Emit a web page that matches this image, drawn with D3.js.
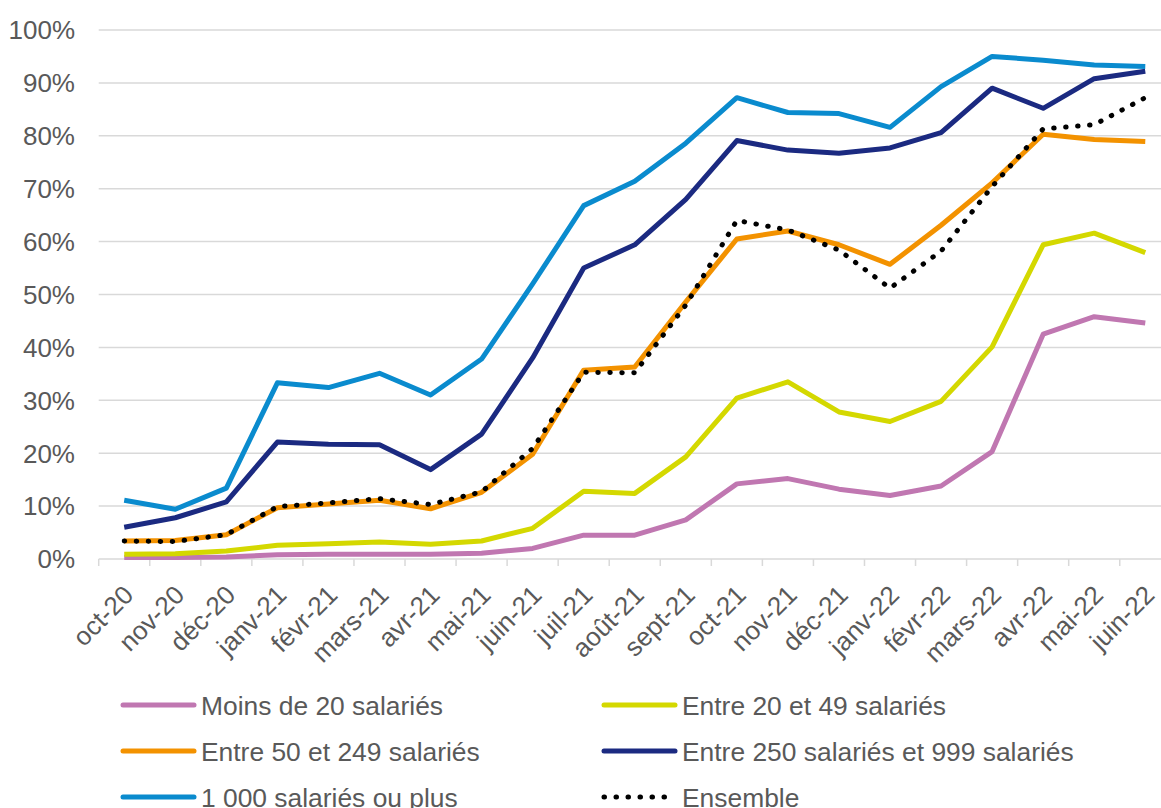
<!DOCTYPE html>
<html>
<head>
<meta charset="utf-8">
<script src="https://cdn.jsdelivr.net/npm/d3@7"></script>
<style>
  html, body { margin: 0; padding: 0; background: #ffffff; }
  svg { display: block; }
  text { font-family: "Liberation Sans", Arial, sans-serif; fill: #595959; }
</style>
</head>
<body>
<svg id="chart" width="1161" height="808"></svg>
<script>
// Months of the observation period
const months = ["oct-20", "nov-20", "déc-20", "janv-21", "févr-21", "mars-21", "avr-21",
  "mai-21", "juin-21", "juil-21", "août-21", "sept-21", "oct-21", "nov-21", "déc-21",
  "janv-22", "févr-22", "mars-22", "avr-22", "mai-22", "juin-22"];

// Share of companies (%) by company size
const moins20 = [0.3, 0.3, 0.4, 0.8, 0.9, 0.9, 0.9, 1.1, 2.0, 4.5, 4.5, 7.4, 14.2, 15.2, 13.2, 12.0, 13.8, 20.3, 42.5, 45.8, 44.6];
const de20a49 = [0.9, 1.0, 1.5, 2.6, 2.9, 3.2, 2.8, 3.4, 5.8, 12.8, 12.4, 19.3, 30.4, 33.5, 27.8, 26.0, 29.8, 40.1, 59.4, 61.6, 57.9];
const de50a249 = [3.4, 3.5, 4.6, 9.7, 10.4, 11.1, 9.5, 12.6, 19.8, 35.7, 36.3, 48.6, 60.5, 62.0, 59.4, 55.7, 63.1, 71.1, 80.3, 79.3, 78.9];
const de250a999 = [6.0, 7.8, 10.8, 22.1, 21.7, 21.6, 16.9, 23.6, 38.0, 55.0, 59.4, 68.0, 79.1, 77.3, 76.7, 77.7, 80.6, 89.0, 85.2, 90.8, 92.2];
const plus1000 = [11.1, 9.4, 13.4, 33.3, 32.4, 35.1, 31.0, 37.8, 52.0, 66.8, 71.4, 78.6, 87.2, 84.4, 84.2, 81.6, 89.3, 95.0, 94.3, 93.4, 93.1];
const ensemble = [3.4, 3.3, 4.6, 9.9, 10.6, 11.4, 10.3, 12.7, 20.9, 35.3, 35.2, 48.0, 64.0, 62.2, 58.4, 51.2, 58.2, 70.4, 81.3, 82.1, 87.2];

// Axis ticks
const yTicks = [0, 10, 20, 30, 40, 50, 60, 70, 80, 90, 100];

// Series names and colours, in drawing order
const seriesNames = ["Moins de 20 salariés", "Entre 20 et 49 salariés", "Entre 50 et 249 salariés",
  "Entre 250 salariés et 999 salariés", "1 000 salariés ou plus", "Ensemble"];
const seriesValues = [moins20, de20a49, de50a249, de250a999, plus1000, ensemble];
const seriesColors = ["#c077b1", "#d4d800", "#f39200", "#1b2a81", "#0a8bce", "#000000"];

const svg = d3.select("#chart");

const x = d3.scaleBand().domain(months).range([98.7, 1170.8]).padding(0);
const y = d3.scaleLinear().domain([0, 100]).range([559, 30]);

// Horizontal gridlines
svg.append("g")
  .selectAll("line")
  .data(yTicks)
  .join("line")
  .attr("x1", 98.7)
  .attr("x2", 1170.8)
  .attr("y1", d => y(d))
  .attr("y2", d => y(d))
  .attr("stroke", "#d9d9d9")
  .attr("stroke-width", 1.5);

// Y axis labels
svg.append("g")
  .selectAll("text")
  .data(yTicks)
  .join("text")
  .attr("x", 75)
  .attr("y", d => y(d))
  .attr("dy", "0.36em")
  .attr("text-anchor", "end")
  .attr("font-size", 26)
  .text(d => d + "%");

// Category tick marks at band edges
svg.append("g")
  .selectAll("line")
  .data(months)
  .join("line")
  .attr("x1", d => x(d))
  .attr("x2", d => x(d))
  .attr("y1", y(0))
  .attr("y2", y(0) + 7)
  .attr("stroke", "#d9d9d9")
  .attr("stroke-width", 1.5);

// Rotated month labels
svg.append("g")
  .selectAll("text")
  .data(months)
  .join("text")
  .attr("text-anchor", "end")
  .attr("font-size", 26)
  .attr("transform", d => `translate(${x(d) + x.bandwidth() / 2 + 4},${y(0) + 31}) rotate(-45)`)
  .attr("dy", "0.36em")
  .text(d => d);

// Series lines
const line = d3.line()
  .x((d, i) => x(months[i]) + x.bandwidth() / 2)
  .y(d => y(d));

svg.append("g")
  .selectAll("path")
  .data(seriesValues)
  .join("path")
  .attr("d", d => line(d))
  .attr("fill", "none")
  .attr("stroke", (d, i) => seriesColors[i])
  .attr("stroke-width", 5)
  .attr("stroke-linejoin", "round")
  .attr("stroke-linecap", (d, i) => i === 5 ? "round" : "butt")
  .attr("stroke-dasharray", (d, i) => i === 5 ? "0.5 11.5" : null);

// Legend, two columns
const legendCols = [123, 604];
const legendRows = [705, 751, 797];
const legend = svg.append("g")
  .selectAll("g")
  .data(seriesNames)
  .join("g")
  .attr("transform", (d, i) => `translate(${legendCols[i % 2]},${legendRows[Math.floor(i / 2)]})`);

legend.append("line")
  .attr("x1", 0)
  .attr("x2", (d, i) => i === 5 ? 62 : 71)
  .attr("y1", 0)
  .attr("y2", 0)
  .attr("stroke", (d, i) => seriesColors[i])
  .attr("stroke-width", 5)
  .attr("stroke-linecap", "round")
  .attr("stroke-dasharray", (d, i) => i === 5 ? "0.5 11.5" : null);

legend.append("text")
  .attr("x", 78)
  .attr("y", 0)
  .attr("dy", "0.36em")
  .attr("font-size", 26.4)
  .text(d => d);
</script>
</body>
</html>
